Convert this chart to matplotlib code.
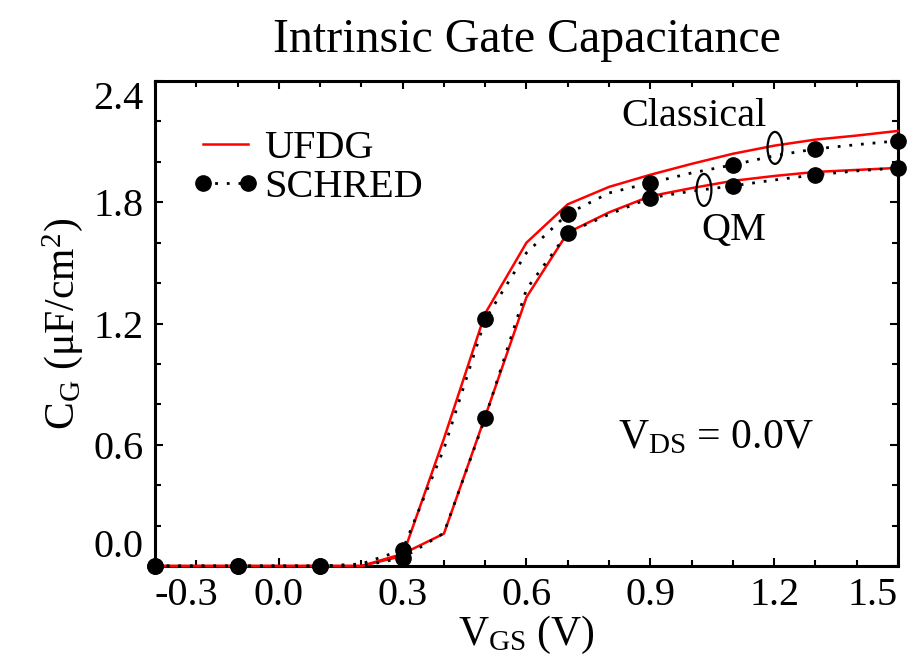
import numpy as np
import matplotlib.pyplot as plt
from matplotlib.patches import Ellipse
from matplotlib.lines import Line2D

plt.rcParams['font.family'] = ['Liberation Serif', 'DejaVu Serif']
plt.rcParams['mathtext.fontset'] = 'custom'
plt.rcParams['mathtext.rm'] = 'Liberation Serif'
plt.rcParams['mathtext.it'] = 'Liberation Serif:italic'

# UFDG (red lines), step 0.1 V
vgs_ufdg = np.round(np.arange(-0.3, 1.51, 0.1), 2)
cg_ufdg_classical = [0, 0, 0, 0, 0, 0, 0.05, 0.63, 1.25, 1.60, 1.79,
                     1.876, 1.936, 1.99, 2.04, 2.08, 2.11, 2.13, 2.153]
cg_ufdg_qm = [0, 0, 0, 0, 0, 0, 0.06, 0.16, 0.74, 1.33, 1.65,
              1.75, 1.83, 1.87, 1.906, 1.93, 1.95, 1.96, 1.97]

# SCHRED (black dots every 0.2 V, dotted line every 0.1 V)
vgs_schred = np.round(np.arange(-0.3, 1.51, 0.1), 2)
cg_schred_classical = [0, 0, 0, 0, 0, 0.01, 0.08, 0.58, 1.22, 1.55, 1.743,
                       1.846, 1.896, 1.945, 1.985, 2.03, 2.064, 2.085, 2.104]
cg_schred_qm = [0, 0, 0, 0, 0, 0.0, 0.04, 0.163, 0.733, 1.37, 1.649,
                1.74, 1.822, 1.855, 1.881, 1.91, 1.936, 1.955, 1.97]

fig = plt.figure(figsize=(9.18, 6.64), dpi=100)
ax = fig.add_axes([0.1688, 0.1476, 0.8094, 0.7304])

fs = 29
red = '#ff0000'

for cg in (cg_ufdg_classical, cg_ufdg_qm):
    ax.plot(vgs_ufdg, cg, '-', color=red, lw=1.8, zorder=3, clip_on=False)
for cg in (cg_schred_classical, cg_schred_qm):
    ax.plot(vgs_schred, cg, color='black', ls=(0, (1, 3.2)), lw=2.0,
            marker='o', ms=11, markevery=2, zorder=4, clip_on=False)

# ellipses marking the curve pairs
ax.add_patch(Ellipse((1.202, 2.069), 0.036, 0.158, fill=False, lw=1.6,
                     ec='black', zorder=5))
ax.add_patch(Ellipse((1.03, 1.861), 0.036, 0.158, fill=False, lw=1.6,
                     ec='black', zorder=5))

ax.text(1.006, 2.225, 'Classical', fontsize=fs, ha='center', va='center')
ax.text(1.103, 1.66, 'QM', fontsize=fs, ha='center', va='center')
ax.text(1.059, 0.634, r'V$_{\mathrm{DS}}$ = 0.0V', fontsize=fs + 1,
        ha='center', va='center')

ax.set_xlim(-0.3, 1.5)
ax.set_ylim(0, 2.4)
ax.set_xticks(np.round(np.arange(-0.3, 1.51, 0.3), 2))
ax.set_xticks(np.round(np.arange(-0.3, 1.51, 0.1), 2), minor=True)
ax.set_yticks(np.round(np.arange(0, 2.41, 0.6), 2))
ax.set_yticks(np.round(np.arange(0, 2.41, 0.2), 2), minor=True)
ax.set_xticklabels(['-0.3', '0.0', '0.3', '0.6', '0.9', '1.2', '1.5'])
ax.set_yticklabels(['0.0', '0.6', '1.2', '1.8', '2.4'])
ax.tick_params(which='both', direction='in', top=True, right=True,
               width=1.5, labelsize=fs)
ax.tick_params(axis='x', which='major', length=6, pad=8)
ax.tick_params(axis='y', which='major', length=6, pad=8)
ax.tick_params(which='minor', length=4)
xl = ax.get_xticklabels()
xl[0].set_ha('left')
xl[-1].set_ha('right')
yl = ax.get_yticklabels()
yl[0].set_va('bottom')
yl[-1].set_va('top')
for s in ax.spines.values():
    s.set_linewidth(2.2)

ax.set_xlabel(r'V$_{\mathrm{GS}}$ (V)', fontsize=fs + 1, labelpad=0)
ax.set_ylabel(r'C$_{\mathrm{G}}$ (μF/cm$^{2}$)', fontsize=fs + 1, labelpad=6)
ax.set_title('Intrinsic Gate Capacitance', fontsize=34.5, pad=21)

handles = [Line2D([], [], color=red, lw=1.8),
           Line2D([], [], color='black', ls=(0, (1, 3.2)), lw=2.0,
                  marker='o', ms=11)]
ax.legend(handles, ['UFDG', 'SCHRED'], loc='upper left',
          bbox_to_anchor=(0.048, 0.9), frameon=False, fontsize=fs,
          numpoints=2, handlelength=1.72, handletextpad=0.1,
          labelspacing=0.05, borderaxespad=0, borderpad=0)

fig.savefig('out.png', dpi=100)
